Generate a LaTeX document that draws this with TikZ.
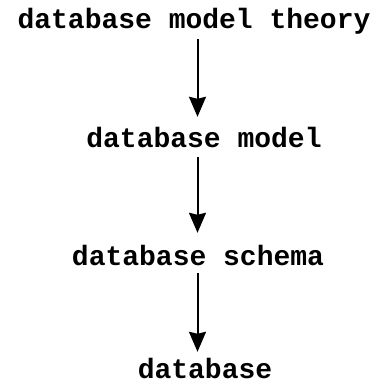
\documentclass[tikz,border=0pt]{standalone}
\usepackage{fontspec}
\setmonofont{Liberation Mono}
\usetikzlibrary{arrows.meta}
\begin{document}
\begin{tikzpicture}[x=1pt,y=-1pt,
  label/.style={inner sep=0pt, anchor=base, text height=18pt, text depth=6pt,
                font=\ttfamily\bfseries\fontsize{28}{30}\selectfont},
  arr/.style={line width=2pt, -{Stealth[length=20pt,width=17pt,inset=2pt]}}]
  \useasboundingbox (0,0) rectangle (386,383);
  % levels of description, top to bottom
  \node[label] (theory) at (194,28)  {database model theory};
  \node[label] (model)  at (204,147) {database model};
  \node[label] (schema) at (198,265) {database schema};
  \node[label] (db)     at (205,378) {database};
  % common axis of the arrows
  \coordinate (ax) at (197.5,0);
  \draw[arr, shorten <=5pt, shorten >=12pt] (theory.south -| ax) -- (model.north -| ax);
  \draw[arr, shorten <=4pt, shorten >=14pt] (model.south -| ax) -- (schema.north -| ax);
  \draw[arr, shorten <=2pt, shorten >=8pt] (schema.south -| ax) -- (db.north -| ax);
\end{tikzpicture}
\end{document}
